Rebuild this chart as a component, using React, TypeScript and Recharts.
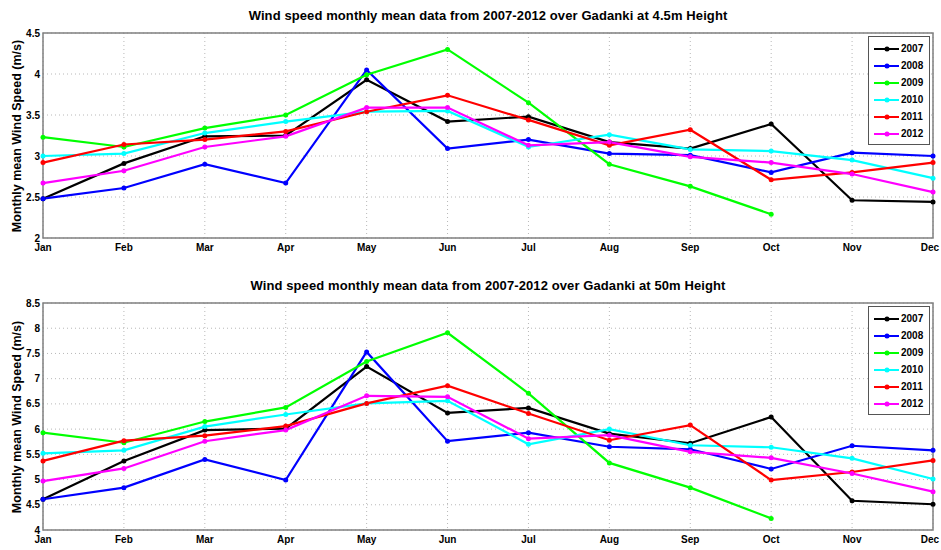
import { CartesianGrid, Line, LineChart, ReferenceArea, XAxis, YAxis } from "recharts"

const months = ["Jan", "Feb", "Mar", "Apr", "May", "Jun", "Jul", "Aug", "Sep", "Oct", "Nov", "Dec"]
const years = ["2007", "2008", "2009", "2010", "2011", "2012"]
const colors = ["#000000", "#0000ff", "#00ff00", "#00ffff", "#ff0000", "#ff00ff"]

// 4.5m height
const low2007 = [2.48, 2.91, 3.24, 3.25, 3.93, 3.42, 3.48, 3.17, 3.09, 3.39, 2.46, 2.44]
const low2008 = [2.48, 2.61, 2.9, 2.67, 4.05, 3.09, 3.2, 3.03, 3.01, 2.8, 3.04, 3.0]
const low2009 = [3.23, 3.11, 3.34, 3.5, 3.99, 4.3, 3.65, 2.9, 2.63, 2.29, null, null]
const low2010 = [3.0, 3.03, 3.28, 3.42, 3.54, 3.55, 3.11, 3.26, 3.08, 3.06, 2.95, 2.73]
const low2011 = [2.92, 3.14, 3.2, 3.3, 3.54, 3.74, 3.44, 3.13, 3.32, 2.71, 2.8, 2.92]
const low2012 = [2.67, 2.82, 3.11, 3.24, 3.59, 3.59, 3.13, 3.17, 2.99, 2.92, 2.78, 2.56]

// 50m height
const high2007 = [4.61, 5.37, 5.98, 6.01, 7.24, 6.32, 6.42, 5.91, 5.72, 6.24, 4.58, 4.51]
const high2008 = [4.61, 4.84, 5.4, 4.99, 7.53, 5.76, 5.93, 5.65, 5.6, 5.21, 5.67, 5.58]
const high2009 = [5.93, 5.73, 6.15, 6.43, 7.34, 7.91, 6.71, 5.33, 4.84, 4.23, null, null]
const high2010 = [5.52, 5.58, 6.05, 6.29, 6.51, 6.56, 5.7, 6.0, 5.68, 5.64, 5.42, 5.01]
const high2011 = [5.37, 5.77, 5.87, 6.06, 6.51, 6.86, 6.31, 5.78, 6.08, 4.99, 5.15, 5.38]
const high2012 = [4.97, 5.22, 5.76, 5.98, 6.66, 6.64, 5.81, 5.88, 5.55, 5.43, 5.12, 4.76]

const lowTicks = [2, 2.5, 3, 3.5, 4, 4.5]
const highTicks = [4, 4.5, 5, 5.5, 6, 6.5, 7, 7.5, 8, 8.5]

const font = "'Liberation Sans', Arial, sans-serif"
const boxColor = "#808080"

function build(series: (number | null)[][]) {
  return months.map((m, i) => {
    const row: any = { month: m }
    years.forEach((y, k) => (row[y] = series[k][i]))
    return row
  })
}

// month label; keep the last one inside the window
const MonthTick = ({ x, y, payload }: any) => (
  <text
    x={Math.min(x, 930)}
    y={y}
    dy="0.71em"
    textAnchor="middle"
    fill="#000"
    fontSize={10}
    fontWeight="bold"
    fontFamily={font}
  >
    {payload.value}
  </text>
)

const LegendBox = ({ top }: { top: number }) => (
  <div
    style={{
      position: "absolute",
      left: 868,
      top,
      width: 62,
      boxSizing: "border-box",
      border: "1px solid #555",
      background: "#fff",
      padding: "3px 0 2px 5px",
      fontFamily: font,
      fontSize: 10,
      fontWeight: "bold",
      lineHeight: "17px",
    }}
  >
    {years.map((y, i) => (
      <div key={y} style={{ display: "flex", alignItems: "center" }}>
        <svg width={25} height={8} style={{ marginRight: 2 }}>
          <line x1={0} y1={4} x2={25} y2={4} stroke={colors[i]} strokeWidth={2} />
          <circle cx={13} cy={4} r={2.5} fill={colors[i]} />
        </svg>
        {y}
      </div>
    ))}
  </div>
)

interface PanelProps {
  data: any[]
  ticks: number[]
  title: string
  top: number
  height: number
}

function Panel({ data, ticks, title, top, height }: PanelProps) {
  const lo = ticks[0]
  const hi = ticks[ticks.length - 1]
  const plotBottom = height - 24
  return (
    <div style={{ position: "absolute", left: 0, top, width: 941, height }}>
      <div
        style={{
          position: "absolute",
          left: 43,
          width: 890,
          top: 8,
          textAlign: "center",
          fontFamily: font,
          fontSize: 13,
          fontWeight: "bold",
          letterSpacing: 0.1,
        }}
      >
        {title}
      </div>
      <div
        style={{
          position: "absolute",
          left: 17 - 120,
          top: (33 + plotBottom) / 2 - 8,
          width: 240,
          height: 16,
          transform: "rotate(-90deg)",
          textAlign: "center",
          fontFamily: font,
          fontSize: 12.5,
          fontWeight: "bold",
          lineHeight: "16px",
        }}
      >
        Monthly mean Wind Speed (m/s)
      </div>
      <LineChart width={941} height={height} data={data} margin={{ top: 33, right: 8, bottom: 0, left: 0 }}>
        <CartesianGrid stroke="#b8b8b8" strokeDasharray="1 3" />
        <XAxis
          dataKey="month"
          height={24}
          tickLine={false}
          axisLine={false}
          tickSize={4}
          tickMargin={2}
          interval={0}
          tick={<MonthTick />}
        />
        <YAxis
          domain={[lo, hi]}
          ticks={ticks}
          width={43}
          tickLine={false}
          axisLine={false}
          tickSize={3}
          tickMargin={0}
          tick={{ fill: "#000", fontSize: 10, fontWeight: "bold", fontFamily: font }}
        />
        <ReferenceArea x1="Jan" x2="Dec" y1={lo} y2={hi} fill="none" stroke={boxColor} strokeWidth={1.5} ifOverflow="visible" />
        {years.map((y, i) => (
          <Line
            key={y}
            dataKey={y}
            stroke={colors[i]}
            strokeWidth={2.2}
            dot={{ r: 2.5, fill: colors[i], stroke: colors[i], strokeWidth: 0 }}
            isAnimationActive={false}
          />
        ))}
      </LineChart>
      <LegendBox top={36} />
    </div>
  )
}

export default function App() {
  const lowData = build([low2007, low2008, low2009, low2010, low2011, low2012])
  const highData = build([high2007, high2008, high2009, high2010, high2011, high2012])
  return (
    <div style={{ position: "absolute", left: 0, top: 0, width: 941, height: 550, background: "#fff", overflow: "hidden" }}>
      <Panel
        data={lowData}
        ticks={lowTicks}
        title="Wind speed monthly mean data from 2007-2012 over Gadanki at 4.5m Height"
        top={0}
        height={262}
      />
      <Panel
        data={highData}
        ticks={highTicks}
        title="Wind speed monthly mean data from 2007-2012 over Gadanki at 50m Height"
        top={270}
        height={284}
      />
    </div>
  )
}
